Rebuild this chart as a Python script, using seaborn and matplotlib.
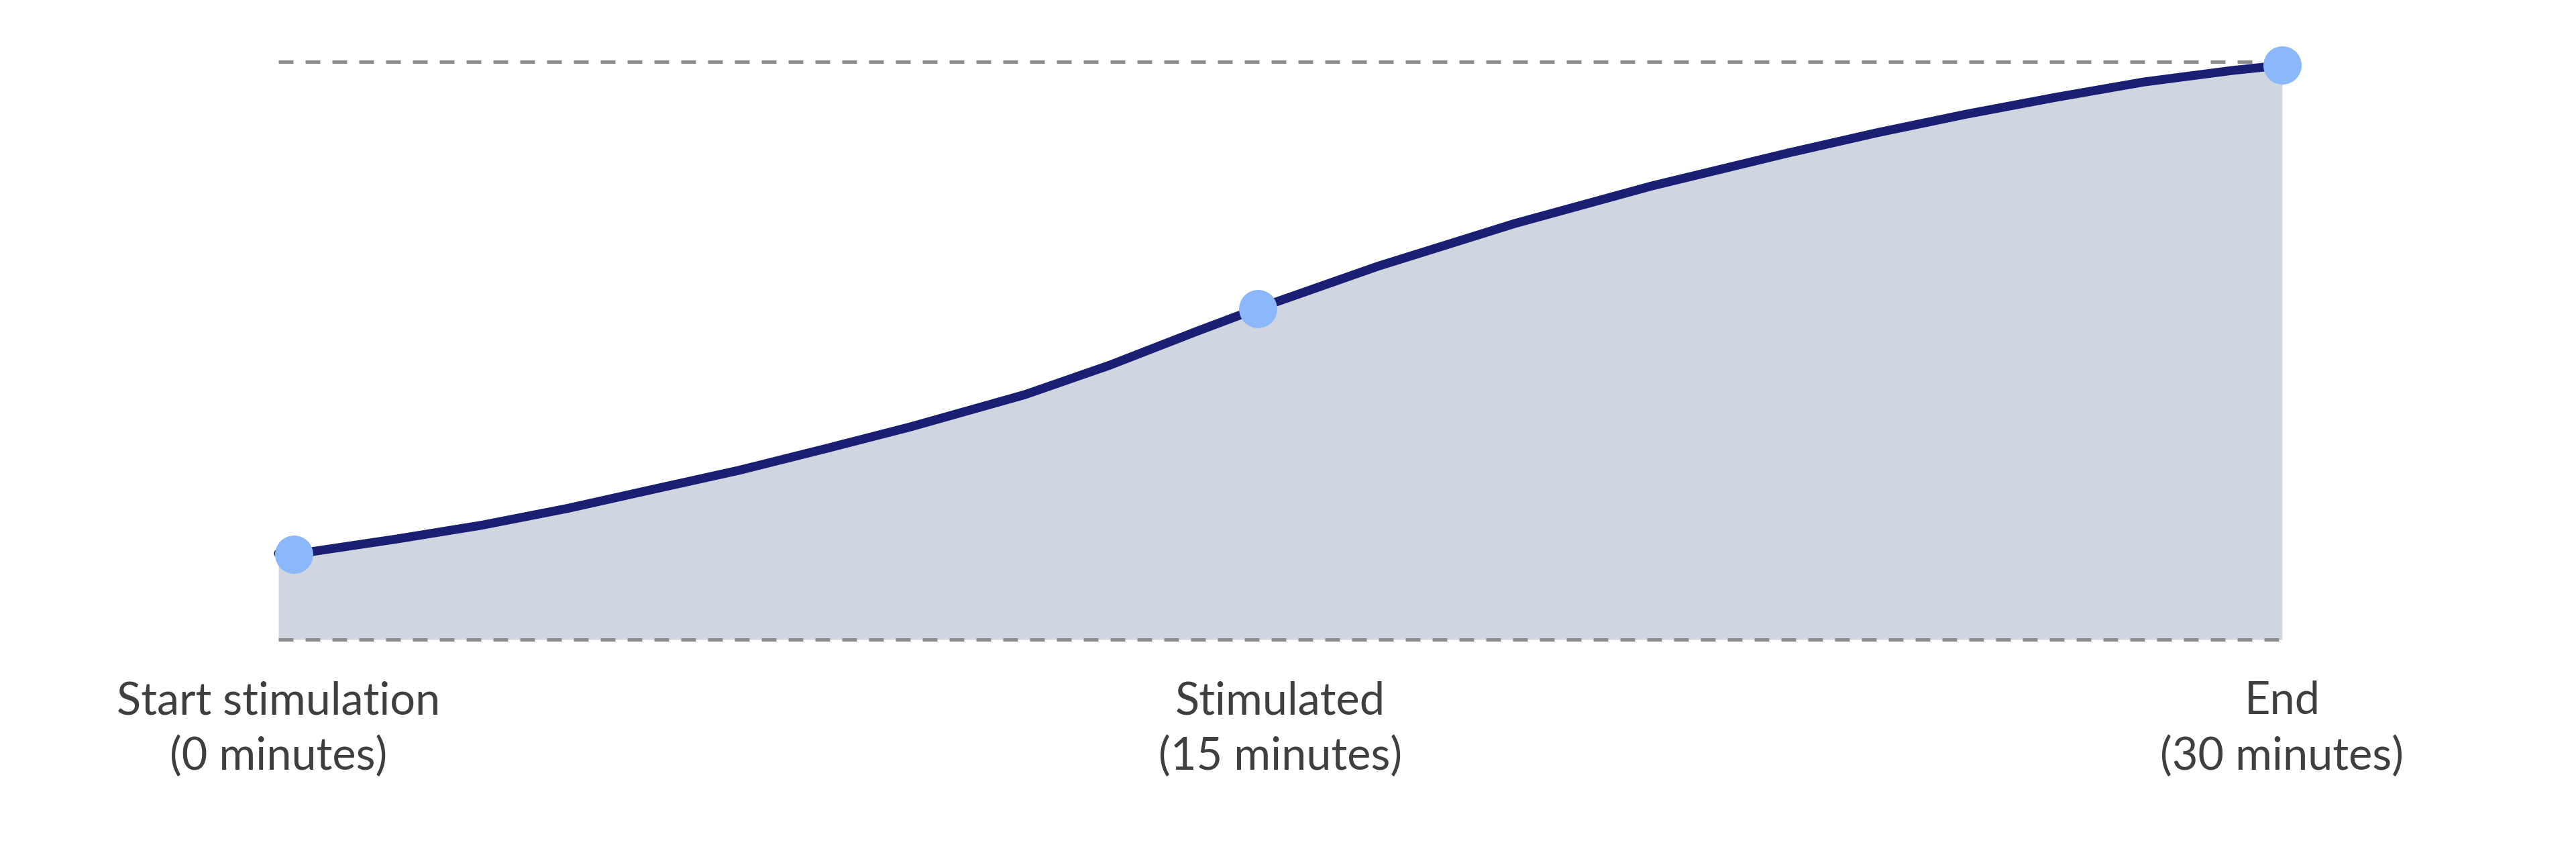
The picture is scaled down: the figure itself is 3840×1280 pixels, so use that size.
import matplotlib
matplotlib.use("Agg")
import matplotlib.pyplot as plt
import seaborn as sns
import pandas as pd

# ---- data ----
curve_minutes = [0.0, 0.49, 1.77, 3.05, 4.33, 5.61, 6.90, 8.18, 9.46,
                 11.18, 12.45, 13.74, 14.66, 16.46, 18.51, 20.56,
                 22.60, 23.93, 25.26, 26.59, 27.93, 29.26, 30.0]
curve_level = [14.9, 15.2, 17.4, 19.8, 22.7, 26.0, 29.3, 33.0, 36.8,
               42.4, 47.5, 53.3, 57.3, 64.6, 72.0, 78.5,
               84.2, 87.7, 90.9, 93.8, 96.5, 98.5, 99.4]
point_minutes = [0.23, 14.66, 30.0]
point_level = [14.8, 57.3, 99.4]
tick_minutes = [0, 15, 30]
tick_labels = ["Start stimulation\n(0 minutes)", "Stimulated\n(15 minutes)", "End\n(30 minutes)"]
guide_levels = [0, 100]

curve = pd.DataFrame({"minutes": curve_minutes, "level": curve_level})
points = pd.DataFrame({"minutes": point_minutes, "level": point_level})

sns.set_theme(style="white")
plt.rcParams["font.family"] = ["Lato", "DejaVu Sans"]

fig = plt.figure(figsize=(38.4, 12.8), dpi=100)
ax = fig.add_axes([415 / 3840, 1 - 953 / 1280, (3402 - 415) / 3840, (953 - 92) / 1280])

ax.fill_between(curve["minutes"], curve["level"], 0, color="#D0D6DF", linewidth=0, zorder=1)
for g in guide_levels:
    ax.axhline(g, color="#8C8C8C", linewidth=3.6, dashes=(4.4, 3.6), zorder=2, clip_on=False)

sns.lineplot(data=curve, x="minutes", y="level", ax=ax, color="#1B1F73",
             linewidth=9.5, solid_capstyle="round", solid_joinstyle="round",
             zorder=3, clip_on=False, estimator=None, sort=False)
sns.scatterplot(data=points, x="minutes", y="level", ax=ax, color="#8AB8FA",
                s=41 ** 2, linewidth=0, zorder=4, clip_on=False)

ax.set_xlim(0, 30)
ax.set_ylim(0, 100)
ax.set_xticks(tick_minutes)
ax.set_xticklabels(tick_labels, fontsize=48, color="#3F3F3F", linespacing=1.4)
ax.tick_params(axis="x", length=0, pad=44)
ax.set_yticks([])
ax.set_xlabel("")
ax.set_ylabel("")
for s in ax.spines.values():
    s.set_visible(False)

fig.savefig("out.png", dpi=100, facecolor="white")
